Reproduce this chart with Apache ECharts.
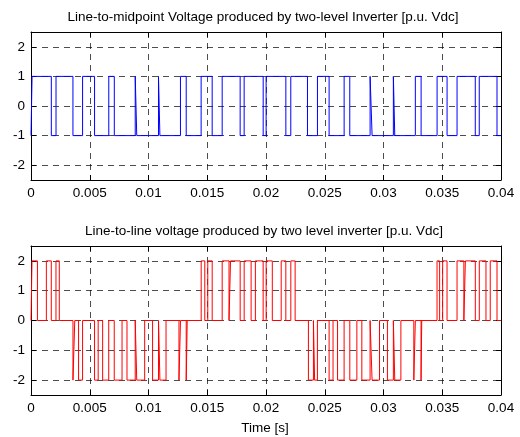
<!DOCTYPE html>
<html><head><meta charset="utf-8">
<script src="https://cdn.jsdelivr.net/npm/echarts@6/dist/echarts.min.js"></script>
<style>html,body{margin:0;padding:0;background:#fff}#c{width:520px;height:437px}</style>
</head><body><div id="c"></div>
<script>
// ---- data ----
const yTicks = [-2, -1, 0, 1, 2];
const xMin = 0, xMax = 0.04, xStep = 0.005;
const topTitle = 'Line-to-midpoint Voltage produced by two-level Inverter [p.u. Vdc]';
const bottomTitle = 'Line-to-line voltage produced by two level inverter [p.u. Vdc]';
const xName = 'Time [s]';
// line-to-midpoint: intervals where voltage = +1 (otherwise -1)
const topHigh = [
  [0.00009,0.00173],[0.00213,0.00357],[0.00439,0.00541],[0.00662,0.00709],
  [0.00887,0.00900],[0.01085,0.01097],[0.01272,0.01321],[0.01448,0.01542],
  [0.01627,0.01780],[0.01814,0.01976],[0.02001,0.02169],[0.02211,0.02353],
  [0.02438,0.02537],[0.02665,0.02713],[0.02886,0.02903],[0.03084,0.03096],
  [0.03271,0.03320],[0.03456,0.03541],[0.03626,0.03781],[0.03815,0.03966]
];
// line-to-line: pulses [start, end, level] (otherwise 0)
const bottomPulses = [
  [0.000085,0.000549,2],[0.001306,0.001727,2],[0.002126,0.002407,2],
  [0.003572,0.003725,-2],[0.004048,0.004389,-2],[0.005409,0.005718,-2],
  [0.006098,0.006617,-2],[0.007085,0.007748,-2],[0.008169,0.008871,-2],
  [0.008999,0.009675,-2],[0.010348,0.010853,-2],[0.010972,0.011493,-2],
  [0.012594,0.012724,-2],[0.013209,0.013294,-2],
  [0.014484,0.014790,2],[0.015046,0.015420,2],[0.016270,0.016853,2],
  [0.016981,0.017801,2],[0.018141,0.018734,2],[0.019097,0.019757,2],
  [0.020013,0.020536,2],[0.021293,0.021688,2],[0.022113,0.022479,2],
  [0.023610,0.024036,-2],[0.024138,0.024376,-2],
  [0.025371,0.025705,-2],[0.026088,0.026647,-2],
  [0.027132,0.027733,-2],[0.028156,0.028858,-2],[0.029028,0.029662,-2],
  [0.030335,0.030840,-2],[0.030959,0.031480,-2],[0.032581,0.032711,-2],
  [0.033196,0.033255,-2],
  [0.034557,0.034777,2],[0.035034,0.035407,2],[0.036258,0.036840,2],
  [0.036968,0.037814,2],[0.038154,0.038721,2],[0.039084,0.039660,2]
];

// ---- build step polylines ----
function stepLine(pulses, base, lvl) {
  const pts = [[xMin, base]];
  pulses.forEach(p => {
    const v = p.length > 2 ? p[2] : lvl;
    pts.push([p[0], base], [p[0], v], [p[1], v], [p[1], base]);
  });
  pts.push([xMax, base]);
  return pts;
}
const topData = stepLine(topHigh, -1, 1);
const botData = stepLine(bottomPulses, 0, 0);

const FONT = 'Liberation Sans, Arial, sans-serif';
const FS = 13.5;
const gridLine = {show: true, lineStyle: {color: '#000', width: 0.7, type: [6, 5]}};
function xAxes(gi) {
  return [{
    type: 'value', gridIndex: gi, min: xMin, max: xMax, interval: xStep, position: 'bottom',
    axisLine: {show: true, onZero: false, lineStyle: {color: '#000', width: 1}},
    axisTick: {show: true, inside: true, length: 5, lineStyle: {color: '#000'}},
    axisLabel: {show: true, color: '#000', fontSize: FS, fontFamily: FONT, margin: 6},
    splitLine: gridLine
  }, {
    type: 'value', gridIndex: gi, min: xMin, max: xMax, interval: xStep, position: 'top',
    axisLine: {show: true, onZero: false, lineStyle: {color: '#000', width: 1}},
    axisTick: {show: true, inside: true, length: 5, lineStyle: {color: '#000'}},
    axisLabel: {show: false}, splitLine: {show: false}
  }];
}
function yAxes(gi) {
  return [{
    type: 'value', gridIndex: gi, min: -2.5, max: 2.5, position: 'left',
    axisLine: {show: true, onZero: false, lineStyle: {color: '#000', width: 1}},
    axisTick: {show: true, inside: true, length: 5, customValues: yTicks, lineStyle: {color: '#000'}},
    axisLabel: {show: true, customValues: yTicks, color: '#000', fontSize: FS, fontFamily: FONT, margin: 6},
    splitLine: gridLine
  }, {
    type: 'value', gridIndex: gi, min: -2.5, max: 2.5, position: 'right',
    axisLine: {show: true, onZero: false, lineStyle: {color: '#000', width: 1}},
    axisTick: {show: true, inside: true, length: 5, customValues: yTicks, lineStyle: {color: '#000'}},
    axisLabel: {show: false}, splitLine: {show: false}
  }];
}

const chart = echarts.init(document.getElementById('c'), null, {renderer: 'canvas'});
chart.setOption({
  animation: false,
  backgroundColor: '#fff',
  grid: [
    {left: 31, right: 19, top: 32, height: 148},
    {left: 31, right: 19, top: 246, height: 149}
  ],
  xAxis: [...xAxes(0), ...xAxes(1)],
  yAxis: [...yAxes(0), ...yAxes(1)],
  graphic: [
    {type: 'text', x: 263, y: 17, style: {text: topTitle, fill: '#000', font: FS + 'px ' + FONT, align: 'center', verticalAlign: 'middle'}},
    {type: 'text', x: 264, y: 231, style: {text: bottomTitle, fill: '#000', font: FS + 'px ' + FONT, align: 'center', verticalAlign: 'middle'}},
    {type: 'text', x: 265, y: 428, style: {text: xName, fill: '#000', font: FS + 'px ' + FONT, align: 'center', verticalAlign: 'middle'}}
  ],
  series: [
    {type: 'line', xAxisIndex: 0, yAxisIndex: 0, data: topData, showSymbol: false, symbol: 'none',
     lineStyle: {color: '#0000ff', width: 1}, z: 5},
    {type: 'line', xAxisIndex: 2, yAxisIndex: 2, data: botData, showSymbol: false, symbol: 'none',
     lineStyle: {color: '#ff0000', width: 1}, z: 5}
  ]
});
</script></body></html>
